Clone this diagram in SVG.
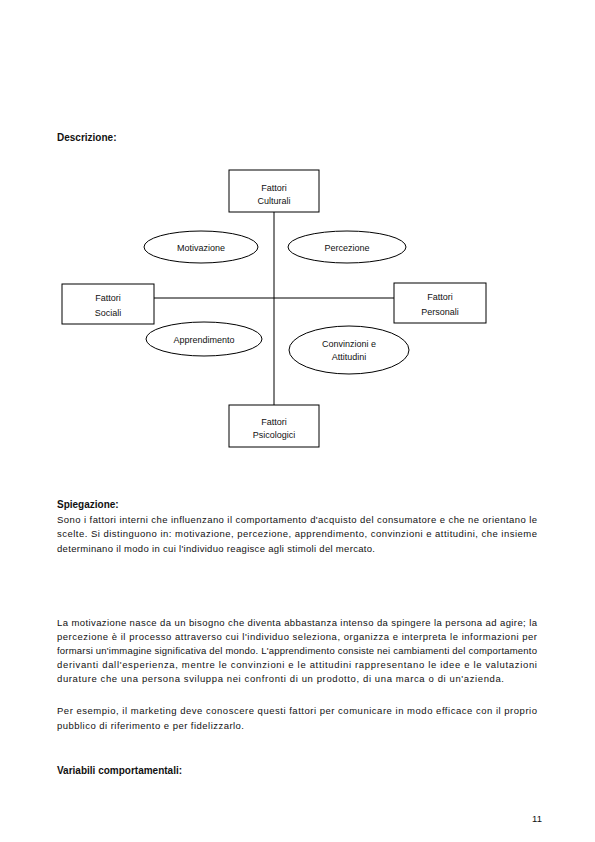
<svg xmlns="http://www.w3.org/2000/svg" width="595" height="842" viewBox="0 0 595 842">
<style>
text{font-family:"Liberation Sans",Arial,sans-serif;fill:#111}
.h{font-size:10px;font-weight:bold}
.b{font-size:9.5px}
.n{font-size:9px;text-anchor:middle}
.box{fill:#fff;stroke:#000;stroke-width:1}
.ell{fill:#fff;stroke:#000;stroke-width:1}
.con{stroke:#000;stroke-width:1;fill:none}
</style>
<rect width="595" height="842" fill="#fff"/>
<text class="h" x="57" y="141">Descrizione:</text>
<g id="connectors">
<line class="con" x1="274" y1="212" x2="274" y2="405"/>
<line class="con" x1="154" y1="298" x2="394" y2="298"/>
</g>
<g id="e1"><ellipse class="ell" cx="201" cy="247" rx="57" ry="16"/><text class="n" x="201" y="250.5">Motivazione</text></g>
<g id="e2"><ellipse class="ell" cx="347" cy="247" rx="59" ry="16"/><text class="n" x="347" y="250.5">Percezione</text></g>
<g id="e3"><ellipse class="ell" cx="204" cy="339" rx="58" ry="17"/><text class="n" x="204" y="342.5">Apprendimento</text></g>
<g id="e4"><ellipse class="ell" cx="349" cy="350" rx="60" ry="24"/><text class="n" x="349" y="347">Convinzioni e</text><text class="n" x="349" y="360">Attitudini</text></g>
<g id="top"><rect class="box" x="229" y="170" width="90" height="42"/><text class="n" x="274" y="191">Fattori</text><text class="n" x="274" y="203.5">Culturali</text></g>
<g id="left"><rect class="box" x="62" y="284" width="92" height="40"/><text class="n" x="108" y="301">Fattori</text><text class="n" x="108" y="316">Sociali</text></g>
<g id="right"><rect class="box" x="394" y="283" width="92" height="40"/><text class="n" x="440" y="300">Fattori</text><text class="n" x="440" y="315">Personali</text></g>
<g id="bottom"><rect class="box" x="229" y="405" width="90" height="42"/><text class="n" x="274" y="425">Fattori</text><text class="n" x="274" y="438">Psicologici</text></g>
<text class="h" x="57" y="508">Spiegazione:</text>
<text class="b" x="57" y="522.5" textLength="480" lengthAdjust="spacing">Sono i fattori interni che influenzano il comportamento d'acquisto del consumatore e che ne orientano le</text>
<text class="b" x="57" y="537" textLength="480" lengthAdjust="spacing">scelte. Si distinguono in: motivazione, percezione, apprendimento, convinzioni e attitudini, che insieme</text>
<text class="b" x="57" y="551.5" textLength="318" lengthAdjust="spacing">determinano il modo in cui l'individuo reagisce agli stimoli del mercato.</text>
<text class="b" x="57" y="625.5" textLength="480" lengthAdjust="spacing">La motivazione nasce da un bisogno che diventa abbastanza intenso da spingere la persona ad agire; la</text>
<text class="b" x="57" y="639.7" textLength="480" lengthAdjust="spacing">percezione è il processo attraverso cui l'individuo seleziona, organizza e interpreta le informazioni per</text>
<text class="b" x="57" y="653.9" textLength="480" lengthAdjust="spacing">formarsi un'immagine significativa del mondo. L'apprendimento consiste nei cambiamenti del comportamento</text>
<text class="b" x="57" y="668.1" textLength="480" lengthAdjust="spacing">derivanti dall'esperienza, mentre le convinzioni e le attitudini rappresentano le idee e le valutazioni</text>
<text class="b" x="57" y="682.3" textLength="447" lengthAdjust="spacing">durature che una persona sviluppa nei confronti di un prodotto, di una marca o di un'azienda.</text>
<text class="b" x="57" y="713.5" textLength="480" lengthAdjust="spacing">Per esempio, il marketing deve conoscere questi fattori per comunicare in modo efficace con il proprio</text>
<text class="b" x="57" y="728.5" textLength="187" lengthAdjust="spacing">pubblico di riferimento e per fidelizzarlo.</text>
<text class="h" x="57" y="773.5">Variabili comportamentali:</text>
<text class="b" x="537" y="822" text-anchor="middle" font-size="8">11</text>
</svg>
